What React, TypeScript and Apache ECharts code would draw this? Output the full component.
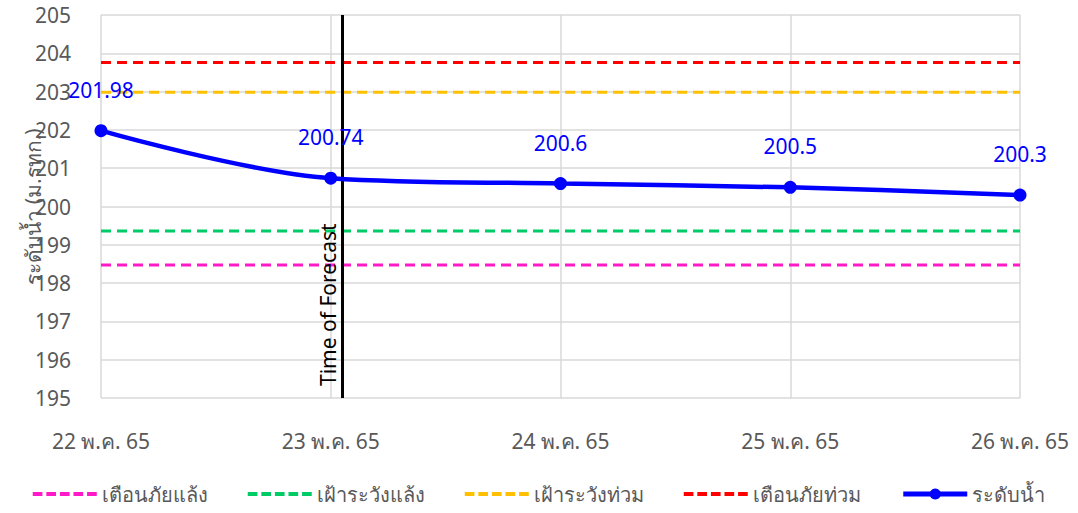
import React, { useEffect, useRef } from "react";
import * as echarts from "echarts";

const categories = ["22 พ.ค. 65", "23 พ.ค. 65", "24 พ.ค. 65", "25 พ.ค. 65", "26 พ.ค. 65"];
const waterLevel = [201.98, 200.74, 200.6, 200.5, 200.3];
const droughtWarning = [198.47, 198.47, 198.47, 198.47, 198.47];
const droughtWatch = [199.36, 199.36, 199.36, 199.36, 199.36];
const floodWatch = [202.98, 202.98, 202.98, 202.98, 202.98];
const floodWarning = [203.76, 203.76, 203.76, 203.76, 203.76];
const forecastPosition = 1.055;
const yTicks = { min: 195, max: 205, interval: 1 };

const names = ["เตือนภัยแล้ง", "เฝ้าระวังแล้ง", "เฝ้าระวังท่วม", "เตือนภัยท่วม", "ระดับน้ำ"];
const colors = ["#FF19C8", "#00CC66", "#FFC000", "#FF0000", "#0000FF"];

const FONT = "'Noto Sans', 'DejaVu Sans', sans-serif";
const DASH_ICON =
  "path://M0,0h10v4h-10z M14,0h10v4h-10z M28,0h10v4h-10z M42,0h10v4h-10z M56,0h10v4h-10z";

export default function App() {
  const ref = useRef<HTMLDivElement>(null);
  useEffect(() => {
    document.body.style.margin = "0";
    const chart = echarts.init(ref.current!, null, { renderer: "svg" });
    const dashed = (name: string, data: number[], color: string) => ({
      name,
      type: "line",
      data,
      symbol: "none",
      itemStyle: { color },
      lineStyle: { color, width: 3, type: [10, 6] },
      z: 2,
    });
    chart.setOption({
      animation: false,
      textStyle: { fontFamily: FONT },
      grid: { left: 101, right: 58, top: 15, bottom: 115, outerBoundsMode: "none" },
      legend: {
        bottom: 4,
        left: "center",
        itemWidth: 64,
        itemHeight: 14,
        itemGap: 40,
        data: [
          ...names.slice(0, 4).map((n) => ({ name: n, icon: DASH_ICON })),
          { name: names[4], lineStyle: { width: 5 } },
        ],
        textStyle: { fontSize: 20, color: "#595959", fontFamily: FONT },
      },
      xAxis: [
        {
          type: "category",
          data: categories,
          boundaryGap: false,
          axisLine: { show: false },
          axisTick: { show: false },
          splitLine: { show: true, lineStyle: { color: "#D9D9D9", width: 1.5 } },
          axisLabel: { fontSize: 21, color: "#595959", margin: 32, fontFamily: FONT },
        },
        {
          type: "value",
          min: 0,
          max: 4,
          show: false,
        },
      ],
      yAxis: {
        type: "value",
        min: yTicks.min,
        max: yTicks.max,
        interval: yTicks.interval,
        name: "ระดับน้ำ (ม.รทก.)",
        nameLocation: "middle",
        nameGap: 58,
        nameMoveOverlap: false,
        nameTextStyle: { fontSize: 21, color: "#595959", fontFamily: FONT },
        axisLine: { show: false },
        axisTick: { show: false },
        splitLine: { show: true, lineStyle: { color: "#D9D9D9", width: 1.5 } },
        axisLabel: { fontSize: 21, color: "#595959", margin: 30, fontFamily: FONT },
      },
      series: [
        dashed(names[0], droughtWarning, colors[0]),
        dashed(names[1], droughtWatch, colors[1]),
        dashed(names[2], floodWatch, colors[2]),
        dashed(names[3], floodWarning, colors[3]),
        {
          name: names[4],
          type: "line",
          data: waterLevel,
          smooth: 0.35,
          symbol: "circle",
          symbolSize: 13,
          itemStyle: { color: colors[4] },
          lineStyle: { color: colors[4], width: 4.5 },
          label: {
            show: true,
            position: "top",
            distance: 24,
            fontSize: 21,
            color: "#0000FF",
            fontFamily: FONT,
          },
          z: 5,
        },
        {
          name: "forecast",
          type: "line",
          xAxisIndex: 1,
          data: [],
          markLine: {
            silent: true,
            symbol: "none",
            lineStyle: { color: "#000000", width: 3, type: "solid" },
            label: {
              show: true,
              formatter: "Time of Forecast",
              position: "insideStartTop",
              distance: [12, 4],
              fontSize: 21,
              color: "#000000",
              fontFamily: FONT,
            },
            data: [{ xAxis: forecastPosition }],
          },
          z: 6,
        },
      ],
    });
    return () => chart.dispose();
  }, []);
  return <div ref={ref} style={{ width: 1078, height: 513 }} />;
}
